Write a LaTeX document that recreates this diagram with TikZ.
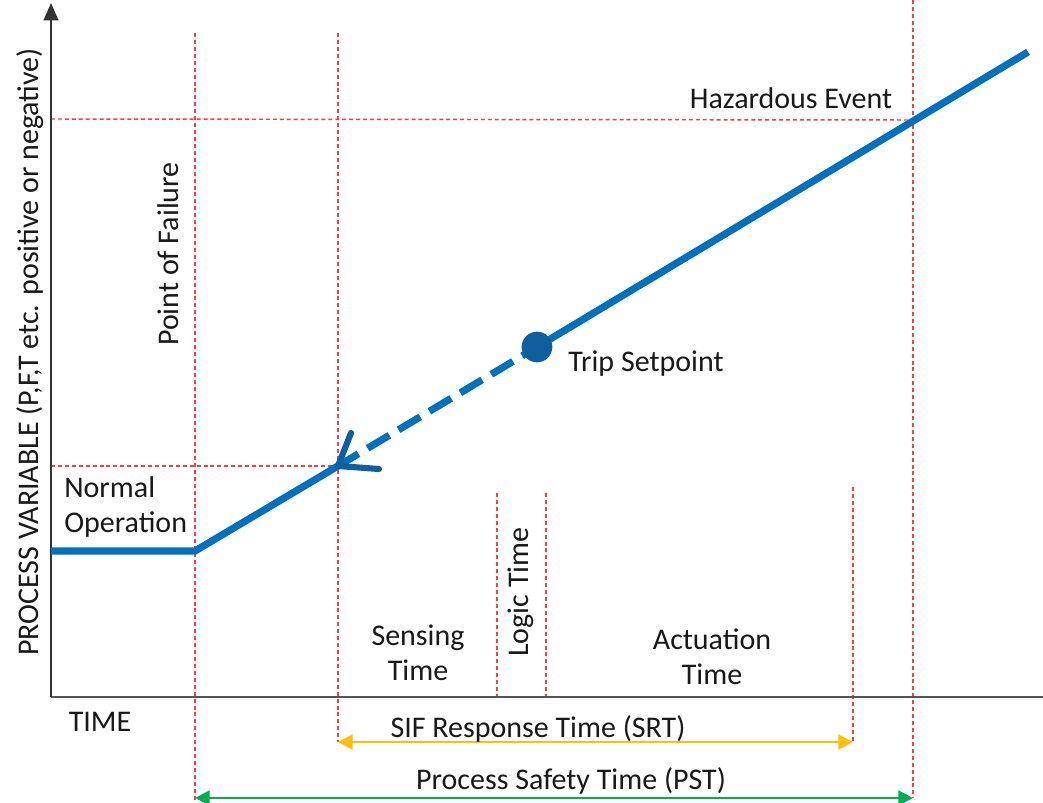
\documentclass[tikz,border=0pt]{standalone}
\usepackage{fontspec}
\setmainfont{Carlito}
\usetikzlibrary{arrows.meta}
\definecolor{pvblue}{HTML}{0070C0}
\definecolor{dotblue}{HTML}{0F5F9E}
\definecolor{guidered}{HTML}{FF3B3B}
\definecolor{srtyellow}{HTML}{FFC000}
\definecolor{pstgreen}{HTML}{00B050}
\definecolor{axisgray}{HTML}{555555}
\tikzset{
  guide/.style={guidered, line width=1.1pt, dash pattern=on 3pt off 2.2pt},
  pvline/.style={pvblue, line width=5.4pt},
  lbl/.style={font=\fontsize{22.5}{26.5}\selectfont, text=black!90, inner sep=0pt},
  span/.style={line width=2.2pt, {Triangle[length=11pt,width=11pt]}-{Triangle[length=11pt,width=11pt]}},
}
\begin{document}
\begin{tikzpicture}[x=0.75pt,y=-0.75pt]
\useasboundingbox (0,0) rectangle (1043,803);
\fill[white] (0,0) rectangle (1043,803);

% key points of the process variable trace
\coordinate (origin) at (51,697);
\coordinate (ytop) at (51,3);
\coordinate (xend) at (1043,697);
\coordinate (start) at (51,551);
\coordinate (fail) at (195,551);
\coordinate (detect) at (338,466);
\coordinate (trip) at (537,347);
\coordinate (hazard) at (913,120);
\coordinate (lineend) at (1028,52);

% guide lines
\draw[guide] (195,33) -- (195,800);
\draw[guide] (338,33) -- (338,742);
\draw[guide] (913,0) -- (913,798);
\draw[guide] (497,493) -- (497,697);
\draw[guide] (546,493) -- (546,697);
\draw[guide] (853,487) -- (853,742);
\draw[guide] (51,119) -- (hazard);
\draw[guide] (51,466) -- (detect);

% axes
\draw[axisgray, line width=1.6pt] (origin) -- (xend);
\draw[black!80, line width=1.6pt, -{Triangle[length=13pt,width=11pt]}] (origin) -- (ytop);

% process variable trace
\draw[pvline] (start) -- (fail) -- (detect);
\draw[pvline, dash pattern=on 19pt off 8pt, dash phase=6pt] (trip) -- (detect);
\draw[pvline] (trip) -- (lineend);
\fill[dotblue] (trip) circle (11.5pt);
\draw[dotblue, line width=4.6pt, line cap=round, line join=round] (351,433) -- (detect) -- (379,469);

% time spans
\draw[srtyellow, span] (338,742) -- (853,742);
\draw[pstgreen, span] (195,798) -- (913,798);

% labels
\node[lbl] (lhaz) at (791,98) {Hazardous Event};
\node[lbl] (ltrip) at (646,364) {Trip Setpoint};
\node[lbl, rotate=90] (lpof) at (168,254) {Point of Failure};
\node[lbl, rotate=90] (lpv) at (30,352) {PROCESS VARIABLE (P,F,T etc. positive or negative)};
\node[lbl, align=left, anchor=west] (lnorm) at (64,507) {Normal\\Operation};
\node[lbl] (ltime) at (100,722) {TIME};
\node[lbl, align=center] (lsense) at (418,653) {Sensing\\Time};
\node[lbl, rotate=90] (llogic) at (521,592) {Logic Time};
\node[lbl, align=center] (lact) at (712,657) {Actuation\\Time};
\node[lbl] (lsrt) at (538,729) {SIF Response Time (SRT)};
\node[lbl] (lpst) at (571,781) {Process Safety Time (PST)};
\end{tikzpicture}
\end{document}
